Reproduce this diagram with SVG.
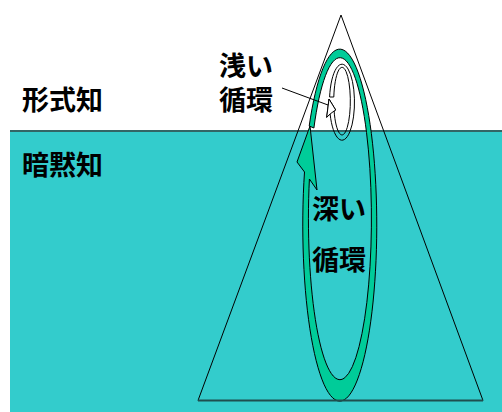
<svg xmlns="http://www.w3.org/2000/svg" width="502" height="412" viewBox="0 0 502 412">
<style>
.t{font-family:"Noto Sans CJK JP","Noto Sans CJK SC",sans-serif;font-weight:bold;font-size:27px;fill:#000}
.ln{fill:none;stroke:#000;stroke-width:1}
</style>
<rect x="0" y="0" width="502" height="412" fill="#fff"/>
<rect id="tacit-area" x="10" y="131" width="492" height="281" fill="#33CCCC"/>
<line x1="10" y1="131" x2="502" y2="131" stroke="#336666" stroke-width="2"/>
<g id="connectors">
<path id="deep-cycle" d="M304.5,172 A37,176 0 1 0 309.2,126 L313.9,128 A31.5,161 0 1 1 309.4,179 L317,190 L310,126 L297,162 Z" fill="#00CC99" stroke="#000" stroke-width="1" stroke-linejoin="miter"/>
<path id="shallow-cycle" d="M330.1,114 A12.5,38 0 1 0 329.6,97 L333.8,97 A8.3,33.8 0 1 1 334.1,111 L335.7,110 L329,99 L326.7,117.3 Z" fill="none" stroke="#000" stroke-width="1"/>
<path d="M329,99 L326.7,117.3 L330.1,114 L334.1,111 L335.7,110 Z" fill="#fff" stroke="#000" stroke-width="1"/>
<line class="ln" x1="282" y1="88" x2="328" y2="105"/>
</g>
<g id="triangle">
<polygon points="341,15 198,400.5 483,400.5" fill="none" stroke="#000" stroke-width="1"/>
<line x1="198" y1="400.5" x2="483" y2="400.5" stroke="#1F4F4F" stroke-width="2"/>
</g>
<g id="explicit"><text class="t" x="22" y="110">形式知</text></g>
<g id="tacit"><text class="t" x="22" y="175">暗黙知</text></g>
<g id="shallow"><text class="t" x="219" y="76">浅い</text><text class="t" x="219" y="110">循環</text></g>
<g id="deep"><text class="t" x="312" y="219">深い</text><text class="t" x="312" y="270">循環</text></g>
</svg>
